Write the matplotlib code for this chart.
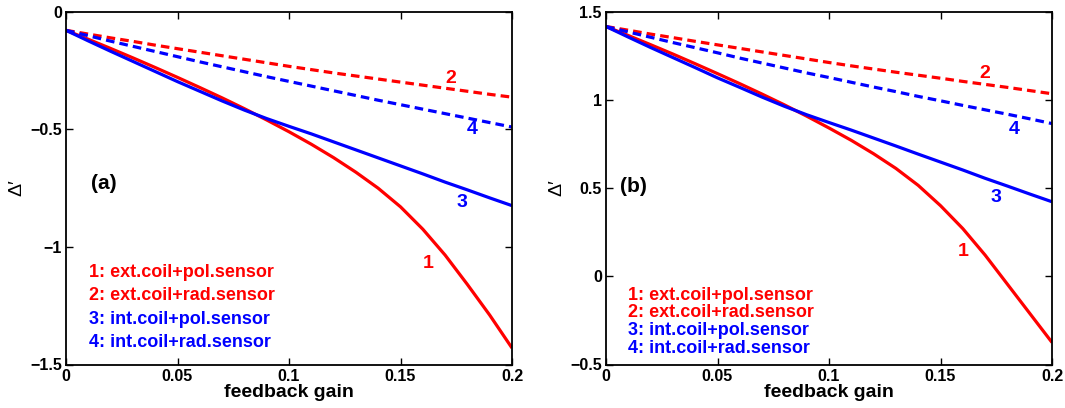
import matplotlib
matplotlib.use("Agg")
import matplotlib.pyplot as plt

plt.rcParams['font.family'] = ['Liberation Sans', 'DejaVu Sans']

gain = [0.00, 0.01, 0.02, 0.03, 0.04, 0.05, 0.06, 0.07, 0.08, 0.09, 0.10,
        0.11, 0.12, 0.13, 0.14, 0.15, 0.16, 0.17, 0.18, 0.19, 0.20]

# panel (a)
a_curve1 = [-0.080, -0.118, -0.157, -0.197, -0.238, -0.280, -0.323, -0.367, -0.413, -0.461, -0.511,
            -0.564, -0.621, -0.683, -0.751, -0.830, -0.925, -1.035, -1.160, -1.290, -1.430]
a_curve2 = [-0.080, -0.096, -0.112, -0.127, -0.143, -0.158, -0.173, -0.188, -0.203, -0.218, -0.233,
            -0.247, -0.261, -0.274, -0.287, -0.300, -0.313, -0.326, -0.339, -0.352, -0.364]
a_curve3 = [-0.080, -0.125, -0.169, -0.212, -0.255, -0.298, -0.339, -0.380, -0.419, -0.455, -0.488,
            -0.520, -0.554, -0.588, -0.622, -0.656, -0.690, -0.725, -0.758, -0.792, -0.825]
a_curve4 = [-0.080, -0.103, -0.126, -0.148, -0.170, -0.192, -0.214, -0.235, -0.256, -0.277, -0.297,
            -0.317, -0.337, -0.357, -0.377, -0.396, -0.415, -0.434, -0.453, -0.472, -0.491]

# panel (b)
b_curve1 = [1.415, 1.364, 1.312, 1.259, 1.204, 1.148, 1.091, 1.032, 0.971, 0.907, 0.840,
            0.770, 0.694, 0.611, 0.515, 0.400, 0.270, 0.120, -0.045, -0.210, -0.375]
b_curve2 = [1.415, 1.394, 1.372, 1.352, 1.331, 1.311, 1.291, 1.271, 1.251, 1.231, 1.211,
            1.192, 1.174, 1.156, 1.139, 1.122, 1.104, 1.087, 1.070, 1.052, 1.034]
b_curve3 = [1.415, 1.355, 1.296, 1.239, 1.182, 1.124, 1.070, 1.015, 0.963, 0.915, 0.871,
            0.828, 0.783, 0.738, 0.692, 0.647, 0.602, 0.555, 0.511, 0.466, 0.422]
b_curve4 = [1.415, 1.384, 1.354, 1.324, 1.295, 1.266, 1.236, 1.208, 1.180, 1.152, 1.126,
            1.099, 1.072, 1.046, 1.019, 0.994, 0.968, 0.943, 0.918, 0.892, 0.865]

legend_labels = ["1: ext.coil+pol.sensor", "2: ext.coil+rad.sensor",
                 "3: int.coil+pol.sensor", "4: int.coil+rad.sensor"]
curve_colors = ['#ff0000', '#ff0000', '#0000ff', '#0000ff']

x_ticks = [0, 0.05, 0.1, 0.15, 0.2]
x_ticklabels = ["0", "0.05", "0.1", "0.15", "0.2"]
a_yticks = [-1.5, -1, -0.5, 0]
a_yticklabels = ["\u22121.5", "\u22121", "\u22120.5", "0"]
b_yticks = [-0.5, 0, 0.5, 1, 1.5]
b_yticklabels = ["\u22120.5", "0", "0.5", "1", "1.5"]

fig = plt.figure(figsize=(10.65, 4.08), dpi=100)
axA = fig.add_axes([66/1065, 1 - 364.5/408, 446/1065, 353/408])
axB = fig.add_axes([606/1065, 1 - 364.5/408, 446/1065, 353/408])

dash = (0, (2.7, 1.6))
lw = 2.3

panels = [
    (axA, [a_curve1, a_curve2, a_curve3, a_curve4], (-1.5, 0), a_yticks, a_yticklabels,
     [(0.1625, -1.071), (0.1725, -0.283), (0.1774, -0.81), (0.182, -0.50)],
     "(a)", (0.011, -0.729), 0.0101, [-1.107, -1.206, -1.307, -1.405]),
    (axB, [b_curve1, b_curve2, b_curve3, b_curve4], (-0.5, 1.5), b_yticks, b_yticklabels,
     [(0.160, 0.138), (0.170, 1.150), (0.175, 0.446), (0.183, 0.832)],
     "(b)", (0.0063, 0.507), 0.0100, [-0.108, -0.208, -0.307, -0.407]),
]

for ax, curves, ylim, yt, ytl, numpos, tag, tagpos, legx, legys in panels:
    styles = ['-', dash, '-', dash]
    for c, col, ls in zip(curves, curve_colors, styles):
        ax.plot(gain, c, color=col, linestyle=ls, linewidth=lw, solid_capstyle='butt',
                solid_joinstyle='round')
    ax.set_xlim(0, 0.2)
    ax.set_ylim(*ylim)
    ax.set_xticks(x_ticks)
    ax.set_xticklabels(x_ticklabels, fontsize=11.5, fontweight='bold')
    ax.set_yticks(yt)
    ax.set_yticklabels(ytl, fontsize=11.5, fontweight='bold')
    ax.tick_params(direction='in', top=True, right=True, length=5, width=1, pad=3)
    for sp in ax.spines.values():
        sp.set_linewidth(1.3)
    ax.set_xlabel("feedback gain", fontsize=14, fontweight='bold', labelpad=0)
    ax.set_ylabel("\u0394\u2032", fontsize=14)
    ax.yaxis.set_label_coords(-0.092, 0.5)
    for i, (px, py) in enumerate(numpos):
        ax.text(px, py, str(i + 1), color=curve_colors[i], fontsize=14, fontweight='bold',
                ha='center', va='center')
    ax.text(tagpos[0], tagpos[1], tag, fontsize=15, fontweight='bold', ha='left', va='center')
    for lab, col, ly in zip(legend_labels, curve_colors, legys):
        ax.text(legx, ly, lab, color=col, fontsize=13, fontweight='bold', ha='left', va='center')

fig.savefig("out.png", dpi=100)
